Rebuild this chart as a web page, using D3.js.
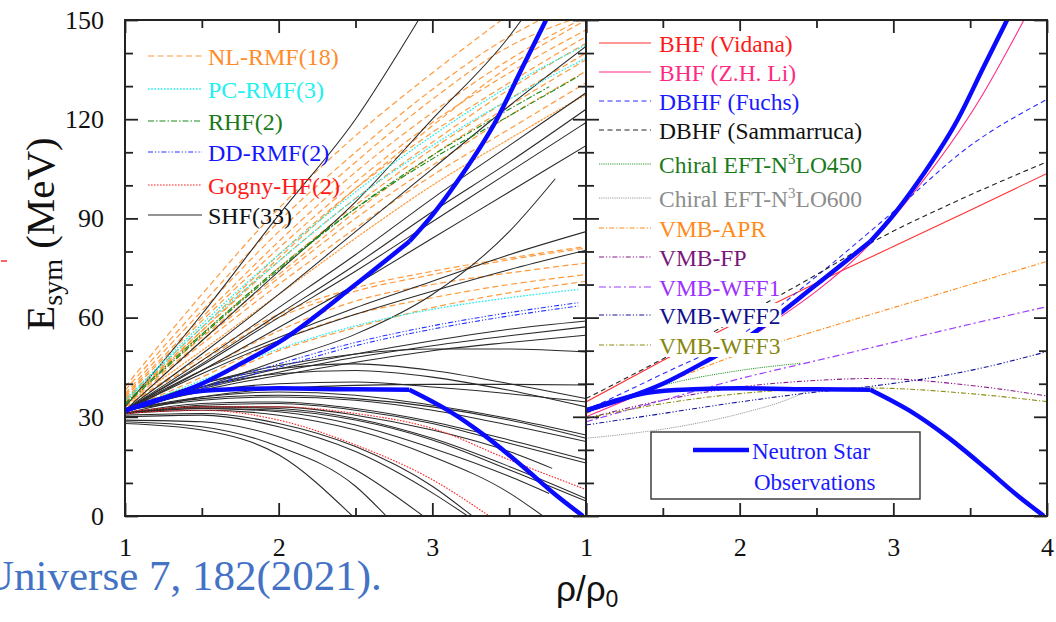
<!DOCTYPE html>
<html><head><meta charset="utf-8">
<script src="https://cdn.jsdelivr.net/npm/d3@7"></script>
<style>body{margin:0;background:#fff}svg{display:block}</style>
</head><body>
<svg id="chart" width="1056" height="622"></svg>
<script>
// ---------------- DATA (rho/rho0, Esym in MeV) ----------------
const yMajorTicks = [0, 30, 60, 90, 120, 150];
const yMinorTicks = [10, 20, 40, 50, 70, 80, 100, 110, 130, 140];
const xMajorTicks = [1, 2, 3, 4];
const xMinorTicks = [1.5, 2.5, 3.5];
const leftTickLabels = [1, 2, 3];
const rightTickLabels = [1, 2, 3, 4];

const nlRMF = [
  [[1,39],[1.5,67],[2,93],[2.5,115],[3,134],[3.45,150]],
  [[1,38],[1.5,64],[2,89],[2.5,110],[3,129],[3.5,145],[3.7,150]],
  [[1,37],[1.5,62],[2,86],[2.5,107],[3,126],[3.5,142],[3.9,150]],
  [[1,36.5],[1.5,60],[2,83],[2.5,104],[3,122],[3.5,138],[4,151]],
  [[1,36],[1.5,59],[2,81],[2.5,101],[3,119],[3.5,134],[4,147]],
  [[1,35.5],[1.5,57],[2,79],[2.5,99],[3,116],[3.5,131],[4,145]],
  [[1,35],[1.5,56],[2,77],[2.5,96],[3,113],[3.5,129],[4,143]],
  [[1,35],[1.5,55],[2,75],[2.5,94],[3,111],[3.5,126],[4,140]],
  [[1,34.5],[1.5,54],[2,73],[2.5,92],[3,109],[3.5,124],[4,138]],
  [[1,34],[1.5,53],[2,72],[2.5,90],[3,106],[3.5,121],[4,134.5]],
  [[1,33.5],[1.5,50],[2,67],[2.5,84],[3,100],[3.5,114],[4,127.5]],
  [[1,33.5],[1.5,52],[2,70],[2.5,87],[3,103],[3.5,117],[4,131]],
  [[1,34],[1.5,56],[2,78],[2.5,99],[3,118],[3.5,136],[4,150]],
  [[1,33],[1.5,48],[2,61],[2.5,69],[3,74],[3.5,78],[4,81.5]],
  [[1,33],[1.5,47],[2,60],[2.5,68],[3,73],[3.5,77.5],[4,81]],
  [[1,32],[1.5,44],[2,56],[2.5,65],[3,70],[3.5,73.5],[4,76.5]],
  [[1,32],[1.5,42],[2,53],[2.5,61],[3,66],[3.5,70],[4,73]],
  [[1,32],[1.5,40],[2,50],[2.5,57],[3,63],[3.5,67.5],[4,71]]
];
const pcRMF = [
  [[1,35],[1.5,58],[2,79],[2.5,98],[3,115],[3.5,130],[4,142.5]],
  [[1,34.5],[1.5,57],[2,77],[2.5,96],[3,112],[3.5,126],[4,138.5]],
  [[1,32],[1.5,41],[2,50.5],[2.5,57.5],[3,62.5],[3.5,66],[3.95,68.5]]
];
const rhf = [
  [[1,34],[1.5,55],[2,75],[2.5,93],[3,108],[3.5,121],[3.95,133]],
  [[1,33.5],[1.5,54.5],[2,74.5],[2.5,93],[3,109],[3.5,123],[3.76,129.8]]
];
const ddRMF = [
  [[1,32],[1.5,39],[2,46],[2.5,52.5],[3,57.5],[3.5,61.5],[3.95,64.5]],
  [[1,31.5],[1.5,38.5],[2,45],[2.5,51.5],[3,56.5],[3.5,60.5],[3.95,63.5]]
];
const gognyHF = [
  [[1,31],[1.5,32],[2,29],[2.5,21.5],[3,11],[3.37,0]],
  [[1,31.5],[1.5,33],[2,33],[2.5,31],[3,26.5],[3.5,17],[4,8]]
];
const shf = [
  [[1,33],[1.5,61],[2,91],[2.5,120],[2.91,150]],
  [[1,32],[1.5,53],[2,74],[2.5,95],[3,120],[3.5,145],[3.58,150]],
  [[1,32],[1.5,49],[2,67],[2.5,86],[3,105],[3.5,124],[4,142]],
  [[1,32],[1.5,47],[2,63],[2.5,79],[3,96],[3.5,112],[4,128]],
  [[1,32],[1.5,46],[2,61],[2.5,76],[3,92],[3.5,107],[4,123]],
  [[1,32],[1.5,45.5],[2,60],[2.5,74],[3,89],[3.5,104],[4,119]],
  [[1,31.5],[1.5,44],[2,57],[2.5,70],[3,84],[3.5,98],[4,112]],
  [[1,32],[1.5,39],[2,47],[2.5,55],[3,67],[3.5,86],[3.8,102]],
  [[1,32],[1.5,44],[2,54],[2.5,63],[3,71],[3.5,79],[4,86]],
  [[1,32],[1.5,43],[2,53],[2.5,61],[3,68],[3.5,74.5],[4,80.4]],
  [[1,32],[1.5,39],[2,44.5],[2.5,49],[3,53],[3.5,56.5],[4,59]],
  [[1,32],[1.5,38.5],[2,43.5],[2.5,48],[3,51.5],[3.5,54.5],[4,57.2]],
  [[1,31.5],[1.5,38],[2,42.5],[2.5,46.5],[3,50],[3.5,52.5],[4,54.7]],
  [[1,32],[1.5,40],[2,45.5],[2.5,49],[3,50.5],[3.5,50.5],[4,49.6]],
  [[1,31],[1.5,36],[2,38.5],[2.5,39.5],[3,39.8],[3.5,39.8],[4,39.6]],
  [[1,32],[1.5,40],[2,44.5],[2.5,46],[3,44],[3.5,40],[4,35.5]],
  [[1,32],[1.5,39],[2,43],[2.5,44],[3,42],[3.5,38],[4,33]],
  [[1,32],[1.5,36],[2,37.5],[2.5,36.5],[3,33.5],[3.5,29.5],[4,24.5]],
  [[1,32],[1.5,35],[2,36],[2.5,35],[3,32],[3.5,27.5],[4,22.5]],
  [[1,31],[1.5,34],[2,34.5],[2.5,32.5],[3,28.5],[3.5,23],[4,17]],
  [[1,31],[1.5,33.5],[2,34],[2.5,32],[3,28],[3.5,22],[4,16]],
  [[1,31],[1.5,33],[2,33],[2.5,30.5],[3,26],[3.5,19.5],[3.78,14.4]],
  [[1,31],[1.5,33],[2,32.5],[2.5,29.5],[3,23.5],[3.5,15],[4,5.3]],
  [[1,31],[1.5,32.5],[2,32],[2.5,29],[3,23],[3.5,14],[4,4.5]],
  [[1,31],[1.5,32.5],[2,31.5],[2.5,27.5],[3,20.5],[3.5,12],[3.76,6.8]],
  [[1,31],[1.5,32],[2,30.5],[2.5,26],[3,18],[3.5,7],[3.72,0]],
  [[1,30.5],[1.5,31],[2,28],[2.5,21],[3,9],[3.26,0]],
  [[1,30],[1.5,30.5],[2,27],[2.5,19.5],[3,7],[3.23,0]],
  [[1,29],[1.5,28.5],[2,24],[2.5,14],[2.94,0]],
  [[1,28.5],[1.5,27],[2,21],[2.5,9],[2.7,0]],
  [[1,28],[1.5,26],[2,18.5],[2.48,0]],
  [[1,32],[1.5,37.5],[2,40],[2.5,40.5],[3,39],[3.5,37],[4,34.5]],
  [[1,32],[1.5,35.5],[2,36.5],[2.5,35.5],[3,33],[3.5,29],[4,23.5]]
];

// Neutron star constraints (kink at 2.85)
const nsUpperLow  = [[1,32],[1.25,35.5],[1.5,40],[1.75,46],[2,52.5],[2.5,70],[2.85,83]];
const nsUpperHigh = [[2.85,83],[3,91],[3.16,101],[3.42,120],[3.59,136],[3.74,150]];
const nsLowerLow  = [[1,31.8],[1.2,35],[1.4,37.3],[1.7,38.3],[2,38.6],[2.5,38.3],[2.85,38.2]];
const nsLowerHigh = [[2.85,38.2],[3.1,32],[3.35,24],[3.6,14.5],[3.8,6.5],[3.98,0]];

// Right panel microscopic calculations
const bhfVidana   = [[1,34.5],[1.5,47],[2,59],[2.5,70.5],[3,81.5],[3.5,92.5],[4,103.6]];
const bhfLi       = [[1,30],[1.5,40],[2,52],[2.26,60],[2.5,68],[2.8,80],[3.13,97.6],[3.56,125.8],[3.85,150]];
const dbhfFuchs   = [[1,32],[1.5,43],[2,54.5],[2.5,72.5],[3,92],[3.5,112],[4,126]];
const dbhfSamm    = [[1,35.5],[1.5,47.5],[2,60],[2.5,73],[2.85,82.5],[3.43,95.6],[4,107.1]];
const chiral450   = [[1,31],[1.25,36],[1.5,39.5],[2,44],[2.4,46.2]];
const chiral600   = [[1,23.5],[1.3,25],[1.6,27],[2.05,31.5],[2.3,35],[2.48,38.6]];
const vmbAPR      = [[1,31],[1.5,40],[2,49],[2.5,56],[3,63],[3.5,70],[4,77]];
const vmbFP       = [[1,29.5],[1.5,35],[2,39],[2.5,41],[2.87,41.6],[3.5,39.5],[4,36.3]];
const vmbWFF1     = [[1,28.5],[1.5,35],[2,41.5],[2.5,47],[3,52.5],[3.5,58],[4,63.3]];
const vmbWFF2     = [[1,27.5],[1.5,31],[2,34.5],[2.5,37.5],[2.85,39.2],[3.5,44],[4,49.7]];
const vmbWFF3     = [[1,29.5],[1.5,34],[2,37],[2.5,38.5],[2.85,38.7],[3.5,37],[4,34.6]];

const leftLegendLabels = ["NL-RMF(18)", "PC-RMF(3)", "RHF(2)", "DD-RMF(2)", "Gogny-HF(2)", "SHF(33)"];
const rightLegendLabels = ["BHF (Vidana)", "BHF (Z.H. Li)", "DBHF (Fuchs)", "DBHF (Sammarruca)",
  "Chiral EFT-N|3|LO450", "Chiral EFT-N|3|LO600", "VMB-APR", "VMB-FP", "VMB-WFF1", "VMB-WFF2", "VMB-WFF3"];

// ---------------- STYLES ----------------
const S = {
  nl:   {c:"#ff9a3c", d:"6,3.5", w:1.2},
  nlFine:{c:"#ff9a3c", d:"2.5,1", w:1.2},
  pc:   {c:"#22eeee", d:"1.6,1.6", w:1.3},
  rhf:  {c:"#1a8a1a", d:"6,2,1.5,2", w:1.1},
  dd:   {c:"#2233ff", d:"5,2,1.2,2,1.2,2", w:1.1},
  gog:  {c:"#ff2222", d:"1.6,1.4", w:1.1},
  shf:  {c:"#2a2a2a", d:null, w:1.05},
  vid:  {c:"#ff3030", d:null, w:1.1},
  li:   {c:"#ff2a85", d:null, w:1.1},
  fuchs:{c:"#2a2aff", d:"5,3.5", w:1.1},
  samm: {c:"#222222", d:"5,3.5", w:1.1},
  ch450:{c:"#2e9a2e", d:"1.2,1", w:1.0},
  ch600:{c:"#9a9a9a", d:"1.2,1", w:1.0},
  apr:  {c:"#ff8a1a", d:"5,2,1.2,2", w:1.1},
  fp:   {c:"#8a1a8a", d:"5,2,1.2,2,1.2,2", w:1.1},
  wff1: {c:"#9b3cff", d:"7,3,2,3", w:1.2},
  wff2: {c:"#15159a", d:"5,2,1.2,2,1.2,2", w:1.1},
  wff3: {c:"#8a8a10", d:"5,2,1.2,2", w:1.1}
};

// ---------------- LAYOUT ----------------
const svg = d3.select("#chart");
const yTop = 20, yBot = 516, xL0 = 125, xMid = 586, xR1 = 1047;
const xL = d3.scaleLinear().domain([1,4]).range([xL0, xMid]);
const xR = d3.scaleLinear().domain([1,4]).range([xMid, xR1]);
const y  = d3.scaleLinear().domain([0,150]).range([yBot, yTop]);

const defs = svg.append("defs");
defs.append("clipPath").attr("id","clipL").append("rect")
  .attr("x", xL0).attr("y", yTop).attr("width", xMid-xL0).attr("height", yBot-yTop);
defs.append("clipPath").attr("id","clipR").append("rect")
  .attr("x", xMid).attr("y", yTop).attr("width", xR1-xMid).attr("height", yBot-yTop);

function lineGen(xs){ return d3.line().x(d=>xs(d[0])).y(d=>y(d[1])).curve(d3.curveMonotoneX); }
function drawCurve(g, xs, pts, st){
  const p = g.append("path").attr("d", lineGen(xs)(pts)).attr("fill","none")
    .attr("stroke", st.c).attr("stroke-width", st.w);
  if (st.d) p.attr("stroke-dasharray", st.d);
  return p;
}

// ---- Left panel curves
const gL = svg.append("g").attr("clip-path","url(#clipL)");
nlRMF.forEach((c,i)=> drawCurve(gL, xL, c, i===10 ? S.nlFine : S.nl));
shf.forEach(c=> drawCurve(gL, xL, c, S.shf));
pcRMF.forEach(c=> drawCurve(gL, xL, c, S.pc));
rhf.forEach(c=> drawCurve(gL, xL, c, S.rhf));
ddRMF.forEach(c=> drawCurve(gL, xL, c, S.dd));
gognyHF.forEach(c=> drawCurve(gL, xL, c, S.gog));
const NS = {c:"#0a0aff", d:null, w:4.5};
[nsUpperLow, nsUpperHigh, nsLowerLow, nsLowerHigh].forEach(c=> drawCurve(gL, xL, c, NS).attr("stroke-linejoin","round"));

// ---- Right panel curves
const gR = svg.append("g").attr("clip-path","url(#clipR)");
const rightSeries = [
  [bhfVidana,S.vid],[bhfLi,S.li],[dbhfFuchs,S.fuchs],[dbhfSamm,S.samm],
  [chiral450,S.ch450],[chiral600,S.ch600],[vmbAPR,S.apr],[vmbFP,S.fp],
  [vmbWFF1,S.wff1],[vmbWFF2,S.wff2],[vmbWFF3,S.wff3]
];
rightSeries.forEach(([c,st])=> drawCurve(gR, xR, c, st));
[nsUpperLow, nsUpperHigh, nsLowerLow, nsLowerHigh].forEach(c=> drawCurve(gR, xR, c, NS));

// ---------------- AXES ----------------
const axisStyle = g => { g.select(".domain").remove(); g.selectAll("line").attr("stroke","#222").attr("stroke-width",1.8); };
function ticks(axisFn, scale, vals, size, transform){
  svg.append("g").attr("transform", transform)
    .call(axisFn(scale).tickValues(vals).tickSize(size).tickFormat(""))
    .call(axisStyle);
}
ticks(d3.axisRight, y, yMajorTicks, 13, `translate(${xL0},0)`);
ticks(d3.axisRight, y, yMinorTicks, 8, `translate(${xL0},0)`);
ticks(d3.axisLeft, y, yMajorTicks, 13, `translate(${xMid},0)`);
ticks(d3.axisLeft, y, yMinorTicks, 8, `translate(${xMid},0)`);
ticks(d3.axisRight, y, yMajorTicks, 13, `translate(${xMid},0)`);
ticks(d3.axisRight, y, yMinorTicks, 8, `translate(${xMid},0)`);
ticks(d3.axisLeft, y, yMajorTicks, 13, `translate(${xR1},0)`);
ticks(d3.axisLeft, y, yMinorTicks, 8, `translate(${xR1},0)`);
[xL, xR].forEach(xs=>{
  ticks(d3.axisBottom, xs, xMajorTicks, 13, `translate(0,${yTop})`);
  ticks(d3.axisBottom, xs, xMinorTicks, 8, `translate(0,${yTop})`);
  ticks(d3.axisTop, xs, xMajorTicks, 13, `translate(0,${yBot})`);
  ticks(d3.axisTop, xs, xMinorTicks, 8, `translate(0,${yBot})`);
});
svg.append("rect").attr("x",xL0).attr("y",yTop).attr("width",xR1-xL0).attr("height",yBot-yTop)
  .attr("fill","none").attr("stroke","#222").attr("stroke-width",2);
svg.append("line").attr("x1",xMid).attr("x2",xMid).attr("y1",yTop).attr("y2",yBot)
  .attr("stroke","#222").attr("stroke-width",2);

const labelFont = g => g.selectAll("text").attr("font-family","'Liberation Serif', 'Times New Roman', serif")
  .attr("font-size", 26).attr("fill","#111");
svg.append("g").attr("transform",`translate(${xL0},0)`)
  .call(d3.axisLeft(y).tickValues(yMajorTicks).tickSize(0).tickPadding(21))
  .call(g=>g.select(".domain").remove()).call(labelFont);
svg.append("g").attr("transform",`translate(0,${yBot})`)
  .call(d3.axisBottom(xL).tickValues(leftTickLabels).tickSize(0).tickPadding(22).tickFormat(d3.format("d")))
  .call(g=>g.select(".domain").remove()).call(labelFont);
svg.append("g").attr("transform",`translate(0,${yBot})`)
  .call(d3.axisBottom(xR).tickValues(rightTickLabels).tickSize(0).tickPadding(22).tickFormat(d3.format("d")))
  .call(g=>g.select(".domain").remove()).call(labelFont);

const yl = svg.append("text").attr("transform","translate(54,234) rotate(-90)")
  .attr("text-anchor","middle").attr("font-family","'Liberation Serif', serif").attr("font-size",41).attr("fill","#111");
yl.append("tspan").text("E");
yl.append("tspan").attr("font-size",28).attr("dy",8).text("sym");
yl.append("tspan").attr("dy",-8).text(" (MeV)");

const xl = svg.append("text").attr("x",556).attr("y",601)
  .attr("font-family","'Liberation Sans', Arial, sans-serif").attr("font-size",35).attr("fill","#111");
xl.append("tspan").text("ρ/ρ");
xl.append("tspan").attr("font-size",23).attr("dy",6).text("0");

// small red mark at far left edge (cut-off annotation)
svg.append("line").attr("x1",1).attr("x2",7).attr("y1",261).attr("y2",261).attr("stroke","#ff3030").attr("stroke-width",1.5);

svg.append("text").attr("x",-17).attr("y",590)
  .attr("font-family","'Liberation Serif', serif").attr("font-size",43).attr("fill","#4472c4")
  .text("Universe 7, 182(2021).");

// ---------------- LEGENDS ----------------
const leftStyles = [S.nl, S.pc, S.rhf, S.dd, S.gog, S.shf];
const leftColors = ["#ff8c2a", "#22f0f0", "#1a7a1a", "#1515ff", "#ff1a1a", "#111"];
const leftRowY = [56, 89, 121, 152, 185, 215];
leftLegendLabels.forEach((lab,i)=>{
  const st = leftStyles[i];
  const l = svg.append("line").attr("x1",148).attr("x2",202).attr("y1",leftRowY[i]).attr("y2",leftRowY[i])
    .attr("stroke", st.c).attr("stroke-width", st.w);
  if (st.d) l.attr("stroke-dasharray", st.d);
  svg.append("text").attr("x",208).attr("y",leftRowY[i]+8.5)
    .attr("font-family","'Liberation Serif', serif").attr("font-size",24).attr("fill",leftColors[i]).text(lab);
});

const rightStyles = [S.vid,S.li,S.fuchs,S.samm,S.ch450,S.ch600,S.apr,S.fp,S.wff1,S.wff2,S.wff3];
const rightColors = ["#ff1a1a","#ff2a80","#1a1aff","#111","#1a7a1a","#8c8c8c","#ff8a1a","#7a167a","#9b30ff","#10108a","#86860e"];
const rightRowY = [43, 72, 101, 130, 164, 198, 228, 257, 287, 315, 345];
const gLeg = svg.append("g");
rightLegendLabels.forEach((lab,i)=>{
  const st = rightStyles[i];
  const l = gLeg.append("line").attr("x1",599).attr("x2",651).attr("y1",rightRowY[i]).attr("y2",rightRowY[i])
    .attr("stroke", st.c).attr("stroke-width", st.w);
  if (st.d) l.attr("stroke-dasharray", st.d);
  const bg = gLeg.append("rect").attr("fill","#fff");
  const t = gLeg.append("text").attr("x",659).attr("y",rightRowY[i]+8.5)
    .attr("font-family","'Liberation Serif', serif").attr("font-size",23.5).attr("fill",rightColors[i]);
  const parts = lab.split("|");
  t.append("tspan").text(parts[0]);
  if (parts.length > 1){
    t.append("tspan").attr("font-size",15).attr("dy",-9).text(parts[1]);
    t.append("tspan").attr("dy",9).text(parts[2]);
  }
  const bb = t.node().getBBox();
  bg.attr("x",bb.x-1).attr("y",rightRowY[i]-12).attr("width",bb.width+2).attr("height",24);
});

svg.append("rect").attr("x",651).attr("y",432).attr("width",269).attr("height",67)
  .attr("fill","#fff").attr("stroke","#333").attr("stroke-width",1.4);
svg.append("line").attr("x1",693).attr("x2",749).attr("y1",450).attr("y2",450)
  .attr("stroke",NS.c).attr("stroke-width",4.5);
svg.append("text").attr("x",752).attr("y",459).attr("font-family","'Liberation Serif', serif")
  .attr("font-size",23).attr("fill","#1a1aff").text("Neutron Star");
svg.append("text").attr("x",754).attr("y",490).attr("font-family","'Liberation Serif', serif")
  .attr("font-size",23).attr("fill","#1a1aff").text("Observations");
</script>
</body></html>
